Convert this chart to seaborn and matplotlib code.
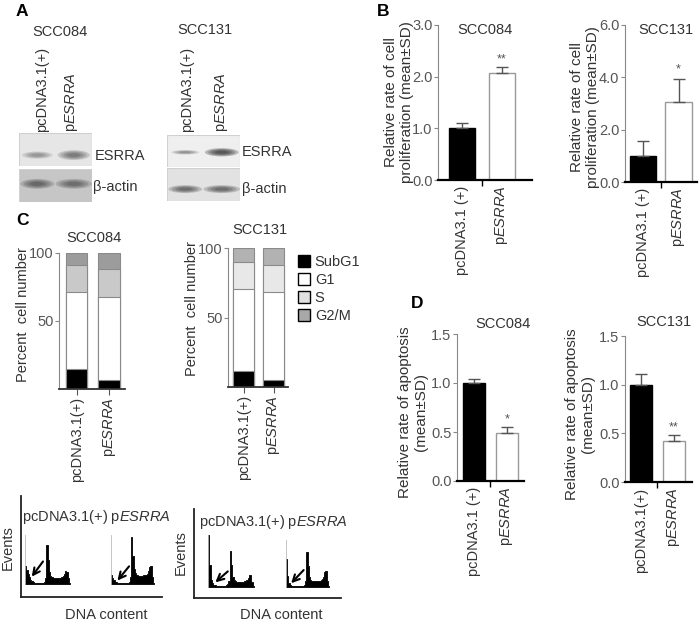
import numpy as np
import pandas as pd
import matplotlib
matplotlib.use("Agg")
import matplotlib.pyplot as plt
import seaborn as sns
from matplotlib.patches import Ellipse, Rectangle, Patch

# ---------------------------
# DATA
# ---------------------------
groups_bd = ["pcDNA3.1 (+)", r"p$\it{ESRRA}$"]
groups_c = ["pcDNA3.1(+)", r"p$\it{ESRRA}$"]

# B: relative proliferation (mean, SD)
prolif_mean_084 = [1.00, 2.08]
prolif_sd_084 = [0.10, 0.10]
prolif_mean_131 = [1.00, 3.05]
prolif_sd_131 = [0.55, 0.90]
prolif_stars_084 = ["", "**"]
prolif_stars_131 = ["", "*"]

# D: relative apoptosis (mean, SD)
apop_mean_084 = [1.00, 0.49]
apop_sd_084 = [0.04, 0.06]
apop_mean_131 = [1.00, 0.42]
apop_sd_131 = [0.11, 0.06]
apop_stars_084 = ["", "*"]
apop_stars_131 = ["", "**"]

# C: cell cycle phases (% of cells)
phases = ["SubG1", "G1", "S", "G2/M"]
cc_084_ctrl = [14.5, 56.8, 19.9, 8.8]
cc_084_esrra = [6.6, 61.3, 20.1, 12.0]
cc_131_ctrl = [11.7, 58.9, 19.3, 10.1]
cc_131_esrra = [4.8, 63.2, 20.0, 12.0]

# C bottom: flow histograms (relative events per DNA-content bin)
hist_084_ctrl = [36, 28, 20, 14, 9, 6, 4, 3, 3, 2, 2, 2, 2, 2, 3, 4, 12, 80,
                 48, 24, 17, 14, 13, 12, 12, 12, 12, 12, 13, 14, 16, 20, 26, 25, 12, 2]
hist_084_esrra = [18, 13, 8, 5, 4, 3, 2, 2, 2, 2, 2, 2, 2, 2, 3, 5, 14, 95,
                  58, 30, 22, 19, 18, 17, 17, 17, 17, 18, 18, 19, 21, 26, 34, 37, 15, 2]
hist_131_ctrl = [100, 42, 14, 7, 4, 3, 2, 2, 2, 2, 2, 2, 2, 2, 3, 5, 12, 70,
                 42, 20, 13, 11, 10, 10, 10, 10, 10, 10, 11, 12, 14, 18, 24, 23, 10, 2]
hist_131_esrra = [60, 24, 9, 5, 3, 2, 2, 2, 2, 2, 2, 2, 2, 2, 3, 5, 12, 74,
                  44, 22, 15, 13, 12, 12, 12, 12, 12, 12, 13, 14, 16, 22, 31, 35, 12, 2]

# A: western blot band intensity (0 = none, 1 = black)
esrra_084 = [0.35, 0.50]
actin_084 = [0.55, 0.50]
esrra_131 = [0.40, 0.80]
actin_131 = [0.60, 0.60]

# ---------------------------
# STYLE
# ---------------------------
sns.set_style("ticks")
plt.rcParams["font.family"] = ["Liberation Sans", "DejaVu Sans"]
plt.rcParams["mathtext.fontset"] = "custom"
plt.rcParams["mathtext.rm"] = "Liberation Sans"
plt.rcParams["mathtext.it"] = "Liberation Sans:italic"

W, H = 700, 623
FS = 10.5
TXT = "#333333"
TICK = "#555555"

fig = plt.figure(figsize=(W / 100, H / 100), dpi=100)


def add_ax(l, t, r, b):
    return fig.add_axes([l / W, 1 - b / H, (r - l) / W, (b - t) / H])


def ftxt(x, y, s, **kw):
    kw.setdefault("fontsize", FS)
    kw.setdefault("color", TXT)
    fig.text(x / W, 1 - y / H, s, **kw)


# panel letters
for letter, x, y in [("A", 16, 4), ("B", 377, 4), ("C", 16, 213), ("D", 411, 296)]:
    ftxt(x, y, letter, fontsize=12.5, fontweight="bold", color="black", ha="left", va="top")


# ---------------------------
# A: western blots
# ---------------------------
def blot(ax, bg, levels, yc, widths, heights):
    ax.add_patch(Rectangle((0, 0), 1, 1, facecolor=bg, edgecolor="#d0d0d0", lw=0.8))
    for xc, lev, w, h in zip([0.25, 0.75], levels, widths, heights):
        for s in [1.0, 0.8, 0.6, 0.4]:
            ax.add_patch(Ellipse((xc, yc), w * s, h * s, facecolor="#202020",
                                 edgecolor="none", alpha=lev / 3))
    ax.set_xlim(0, 1)
    ax.set_ylim(0, 1)
    ax.axis("off")


blot(add_ax(19, 133, 92, 166), "#e6e6e6", esrra_084, 0.33, [0.42, 0.44], [0.22, 0.3])
blot(add_ax(19, 169, 92, 202), "#c6c6c6", actin_084, 0.55, [0.46, 0.5], [0.3, 0.3])
blot(add_ax(167, 135, 240, 167), "#efefef", esrra_131, 0.46, [0.38, 0.46], [0.14, 0.26])
blot(add_ax(167, 168, 240, 201), "#e2e2e2", actin_131, 0.36, [0.46, 0.5], [0.24, 0.24])

ftxt(60, 32, "SCC084", ha="center", va="center")
ftxt(205, 30, "SCC131", ha="center", va="center")
for x, s in [(42, "pcDNA3.1(+)"), (71, r"p$\it{ESRRA}$"),
             (187, "pcDNA3.1(+)"), (222, r"p$\it{ESRRA}$")]:
    ftxt(x, 132, s, rotation=90, ha="center", va="bottom")
ftxt(95, 156, "ESRRA", ha="left", va="center")
ftxt(93, 187, "β-actin", ha="left", va="center")
ftxt(242, 152, "ESRRA", ha="left", va="center")
ftxt(242, 189, "β-actin", ha="left", va="center")


# ---------------------------
# B / D: bar charts with SD
# ---------------------------
def mean_sd_bars(ax, means, sds, stars, width, xlim, ymax, yticks, star_gap):
    sns.barplot(x=groups_bd, y=means, hue=groups_bd, palette=["black", "white"],
                width=width, edgecolor="#999999", linewidth=1, legend=False, ax=ax)
    ax.patches[0].set_edgecolor("black")
    ax.errorbar([0, 1], means, yerr=[[0, 0], sds], fmt="none", ecolor="#555555",
                elinewidth=1, capsize=4, capthick=1)
    for i, s in enumerate(stars):
        if s:
            ax.text(i, means[i] + sds[i] + star_gap, s, ha="center", va="bottom",
                    fontsize=9, color="#555555")
    sns.despine(ax=ax)
    ax.spines["left"].set_color("#888888")
    ax.spines["left"].set_linewidth(0.8)
    ax.spines["bottom"].set_color("black")
    ax.spines["bottom"].set_linewidth(1.6)
    ax.set_xlim(*xlim)
    ax.set_ylim(0, ymax)
    ax.set_yticks(yticks)
    ax.set_yticklabels([f"{v:.1f}" for v in yticks])
    ax.tick_params(axis="y", length=3, width=0.8, color="#888888", labelsize=FS,
                   labelcolor=TICK, pad=1)
    ax.tick_params(axis="x", length=0, labelsize=FS, labelcolor=TXT, rotation=90, pad=4)
    ax.set_xticks([0.5], minor=True)
    ax.tick_params(axis="x", which="minor", length=4, width=1, color="black")
    ax.set(xlabel="", ylabel="")


ax = add_ax(438, 25, 532, 180)
mean_sd_bars(ax, prolif_mean_084, prolif_sd_084, prolif_stars_084, 0.66, (-0.6, 1.75),
             3.0, [0, 1, 2, 3], 0.04)
ax = add_ax(625, 25, 697, 182)
mean_sd_bars(ax, prolif_mean_131, prolif_sd_131, prolif_stars_131, 0.74, (-0.51, 1.52),
             6.0, [0, 2, 4, 6], 0.12)
ftxt(485, 30, "SCC084", ha="center", va="center")
ftxt(666, 30, "SCC131", ha="center", va="center")
ftxt(399, 102, "Relative rate of cell\nproliferation (mean±SD)", rotation=90,
     ha="center", va="center", fontsize=11, linespacing=1.15)
ftxt(585, 107, "Relative rate of cell\nproliferation (mean±SD)", rotation=90,
     ha="center", va="center", fontsize=11, linespacing=1.15)

ax = add_ax(457, 334, 524, 481)
mean_sd_bars(ax, apop_mean_084, apop_sd_084, apop_stars_084, 0.67, (-0.52, 1.52),
             1.5, [0, 0.5, 1.0, 1.5], 0.015)
ax = add_ax(625, 336, 692, 482)
mean_sd_bars(ax, apop_mean_131, apop_sd_131, apop_stars_131, 0.67, (-0.48, 1.55),
             1.5, [0, 0.5, 1.0, 1.5], 0.015)
ax.set_xticklabels(["pcDNA3.1(+)", r"p$\it{ESRRA}$"])
ftxt(503, 324, "SCC084", ha="center", va="center")
ftxt(664, 322, "SCC131", ha="center", va="center")
ftxt(413, 412, "Relative rate of apoptosis\n(mean±SD)", rotation=90,
     ha="center", va="center", fontsize=11, linespacing=1.15)
ftxt(580, 414, "Relative rate of apoptosis\n(mean±SD)", rotation=90,
     ha="center", va="center", fontsize=11, linespacing=1.15)


# ---------------------------
# C: stacked cell cycle bars
# ---------------------------
def stacked(ax, ctrl, esrra, colors, width, xlim):
    df = pd.DataFrame({"group": groups_c * len(phases),
                       "phase": np.repeat(phases, 2),
                       "pct": np.ravel(np.column_stack([ctrl, esrra]))})
    df["cum"] = df.groupby("group", sort=False)["pct"].cumsum()
    for ph in phases[::-1]:
        sub = df[df["phase"] == ph]
        sns.barplot(data=sub, x="group", y="cum", order=groups_c, color=colors[ph],
                    width=width, edgecolor="#8a8a8a", linewidth=0.8, ax=ax,
                    saturation=1)
    sns.despine(ax=ax)
    ax.spines["left"].set_color("#888888")
    ax.spines["left"].set_linewidth(0.8)
    ax.spines["bottom"].set_color("#333333")
    ax.spines["bottom"].set_linewidth(1.3)
    ax.set_xlim(*xlim)
    ax.set_ylim(0, 100)
    ax.set_yticks([50, 100])
    ax.tick_params(axis="y", length=3, width=0.8, color="#888888", labelsize=FS,
                   labelcolor=TICK, pad=1)
    ax.tick_params(axis="x", length=4, width=0.8, color="#555555", labelsize=FS,
                   labelcolor=TXT, rotation=90, pad=2)
    ax.set(xlabel="", ylabel="")


colors_084 = {"SubG1": "black", "G1": "white", "S": "#c9c9c9", "G2/M": "#9c9c9c"}
colors_131 = {"SubG1": "black", "G1": "white", "S": "#e8e8e8", "G2/M": "#b2b2b2"}
stacked(add_ax(59, 253, 125, 389), cc_084_ctrl, cc_084_esrra, colors_084, 0.66, (-0.54, 1.49))
stacked(add_ax(228, 248, 288, 387), cc_131_ctrl, cc_131_esrra, colors_131, 0.7, (-0.52, 1.48))
ftxt(94, 238, "SCC084", ha="center", va="center")
ftxt(260, 230, "SCC131", ha="center", va="center")
ftxt(23, 315, "Percent  cell number", rotation=90, ha="center", va="center")
ftxt(192, 309, "Percent  cell number", rotation=90, ha="center", va="center")

legend_colors = {"SubG1": "black", "G1": "white", "S": "#e0e0e0", "G2/M": "#a8a8a8"}
handles = [Patch(facecolor=legend_colors[p], edgecolor="black", linewidth=1) for p in phases]
fig.legend(handles, phases, loc="upper left", bbox_to_anchor=(298 / W, 1 - 255 / H),
           frameon=False, fontsize=FS, handlelength=0.85, handleheight=0.85,
           handletextpad=0.3, labelspacing=0.28, borderpad=0, borderaxespad=0,
           labelcolor=TXT)


# ---------------------------
# C bottom: flow cytometry histograms
# ---------------------------
def frame(l, t, r, b):
    ax = add_ax(l, t, r, b)
    ax.set_facecolor("none")
    for side in ["top", "right"]:
        ax.spines[side].set_visible(False)
    for side in ["left", "bottom"]:
        ax.spines[side].set_color("#222222")
        ax.spines[side].set_linewidth(1.3)
    ax.set_xticks([])
    ax.set_yticks([])


def mini_hist(l, t, r, b, vals, arrow):
    ax = add_ax(l, t, r, b)
    ax.set_facecolor("none")
    n = len(vals)
    sns.histplot(x=np.arange(n), weights=vals, bins=n, binrange=(-0.5, n - 0.5),
                 element="step", fill=True, color="black", alpha=1, linewidth=0.6, ax=ax)
    ax.set_xlim(-0.5, n - 0.5)
    ax.set_ylim(0, 100)
    for side in ["top", "right", "bottom"]:
        ax.spines[side].set_visible(False)
    ax.spines["left"].set_color("#bbbbbb")
    ax.spines["left"].set_linewidth(0.6)
    ax.set_xticks([])
    ax.set_yticks([])
    ax.set(xlabel="", ylabel="")
    ax.annotate("", xy=arrow[2:], xytext=arrow[:2], xycoords="axes fraction",
                textcoords="axes fraction",
                arrowprops=dict(arrowstyle="->", color="black", lw=1.5,
                                mutation_scale=12, shrinkA=0, shrinkB=0))


frame(21, 496, 162, 597)
frame(194, 509, 341, 598)
mini_hist(25, 535, 70, 584, hist_084_ctrl, (0.40, 0.46, 0.15, 0.15))
mini_hist(111, 535, 154, 584, hist_084_esrra, (0.42, 0.36, 0.15, 0.07))
mini_hist(208, 535, 254, 587, hist_131_ctrl, (0.43, 0.30, 0.16, 0.09))
mini_hist(286, 540, 329, 587, hist_131_esrra, (0.41, 0.36, 0.12, 0.08))

ftxt(22, 517, r"pcDNA3.1(+) p$\it{ESRRA}$", ha="left", va="center")
ftxt(199, 522, r"pcDNA3.1(+) p$\it{ESRRA}$", ha="left", va="center")
ftxt(8, 548, "Events", rotation=90, ha="center", va="center")
ftxt(181, 553, "Events", rotation=90, ha="center", va="center")
ftxt(106, 615, "DNA content", ha="center", va="center")
ftxt(281, 615, "DNA content", ha="center", va="center")

fig.savefig("out.png", dpi=100, facecolor="white")
